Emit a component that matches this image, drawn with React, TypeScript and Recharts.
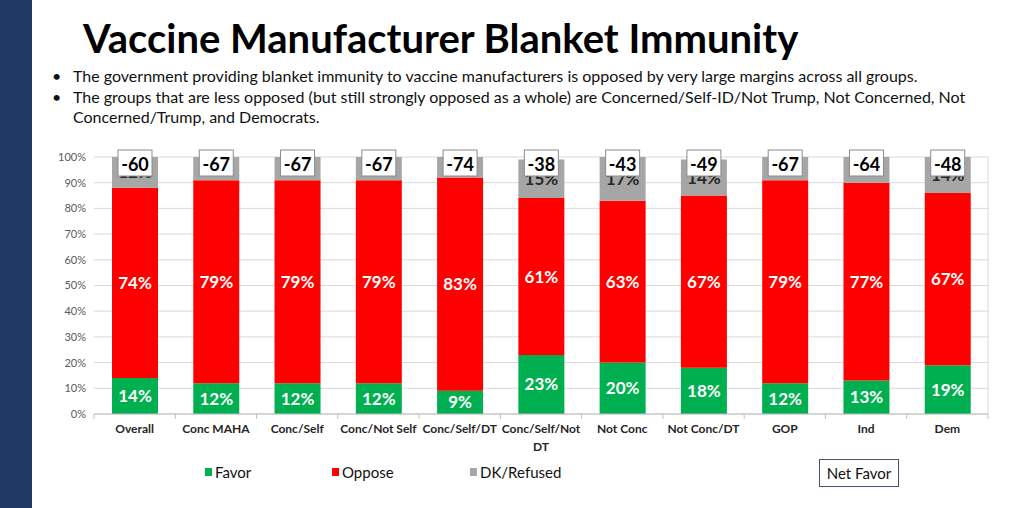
import React from "react";
import {
  BarChart,
  Bar,
  XAxis,
  YAxis,
  CartesianGrid,
  LabelList,
} from "recharts";

const categories = [
  "Overall",
  "Conc MAHA",
  "Conc/Self",
  "Conc/Not Self",
  "Conc/Self/DT",
  "Conc/Self/Not DT",
  "Not Conc",
  "Not Conc/DT",
  "GOP",
  "Ind",
  "Dem",
];
const favor = [14, 12, 12, 12, 9, 23, 20, 18, 12, 13, 19];
const oppose = [74, 79, 79, 79, 83, 61, 63, 67, 79, 77, 67];
const dkRefused = [12, 9, 9, 9, 8, 15, 17, 14, 9, 10, 14];
const yTicks = [0, 10, 20, 30, 40, 50, 60, 70, 80, 90, 100];

const GREEN = "#00b050";
const RED = "#ff0000";
const GRAY = "#a6a6a6";
const FONT = "Lato, 'Open Sans', sans-serif";

const data = categories.map((name, i) => ({
  name,
  favor: favor[i],
  oppose: oppose[i],
  dk: dkRefused[i],
  net: favor[i] - oppose[i],
}));

const pct = (v: number) => `${v}%`;

// long category names break at their last space
function splitLabel(label: string): string[] {
  if (label.length <= 14) return [label];
  const cut = label.lastIndexOf(" ");
  return [label.slice(0, cut), label.slice(cut + 1)];
}

function CategoryTick(props: any) {
  const { x, y, payload, index } = props;
  const half = payload.offset || 0;
  const lines = splitLabel(String(payload.value));
  return (
    <g>
      <line x1={x - half} x2={x - half} y1={y - 8} y2={y - 3} stroke="#bfbfbf" />
      {index === categories.length - 1 && (
        <line x1={x + half} x2={x + half} y1={y - 8} y2={y - 3} stroke="#bfbfbf" />
      )}
      <text
        x={x}
        y={y + 11}
        textAnchor="middle"
        fontSize={12}
        fontWeight="bold"
        fontFamily={FONT}
        fill="#262626"
      >
        {lines.map((line, i) => (
          <tspan key={i} x={x} dy={i === 0 ? 0 : 18}>
            {line}
          </tspan>
        ))}
      </text>
    </g>
  );
}

// white box with the net favor score, pinned just above the 100% line
function NetBox(props: any) {
  const { x, y, width, height, index } = props;
  const row = data[index];
  const total = row.favor + row.oppose + row.dk;
  const top100 = y - ((100 - total) * height) / row.dk;
  const cx = x + width / 2;
  const bw = 34;
  const bh = 26;
  return (
    <g>
      <rect
        x={cx - bw / 2}
        y={top100 - 7}
        width={bw}
        height={bh}
        fill="#ffffff"
        stroke="#8c8c8c"
        strokeWidth={1}
      />
      <text
        x={cx}
        y={top100 - 7 + bh / 2 + 1}
        textAnchor="middle"
        dominantBaseline="central"
        fontSize={18}
        fontWeight="bold"
        fontFamily={FONT}
        fill="#000000"
      >
        {row.net}
      </text>
    </g>
  );
}

const legendItems = [
  { label: "Favor", color: GREEN, left: 205 },
  { label: "Oppose", color: RED, left: 332 },
  { label: "DK/Refused", color: GRAY, left: 470 },
];

export default function App() {
  return (
    <div
      style={{
        position: "relative",
        width: 1024,
        height: 508,
        background: "#ffffff",
        overflow: "hidden",
        fontFamily: FONT,
      }}
    >
      <style>{`body{margin:0}`}</style>
      <div
        style={{
          position: "absolute",
          left: 0,
          top: 0,
          width: 32,
          height: 508,
          background: "#203864",
        }}
      />
      <div
        style={{
          position: "absolute",
          left: 83,
          top: 14,
          fontSize: 40,
          fontWeight: 700,
          color: "#000",
          whiteSpace: "nowrap",
        }}
      >
        Vaccine Manufacturer Blanket Immunity
      </div>
      <div
        style={{
          position: "absolute",
          left: 52,
          top: 66,
          width: 930,
          fontSize: 16,
          lineHeight: "20.5px",
          color: "#111",
        }}
      >
        <div style={{ display: "flex" }}>
          <span style={{ width: 21, flex: "none" }}>•</span>
          <span style={{ whiteSpace: "nowrap" }}>
            The government providing blanket immunity to vaccine manufacturers is
            opposed by very large margins across all groups.
          </span>
        </div>
        <div style={{ display: "flex" }}>
          <span style={{ width: 21, flex: "none" }}>•</span>
          <span style={{ width: 905 }}>
            The groups that are less opposed (but still strongly opposed as a
            whole) are Concerned/Self-ID/Not Trump, Not Concerned, Not
            Concerned/Trump, and Democrats.
          </span>
        </div>
      </div>

      <div style={{ position: "absolute", left: 0, top: 0 }}>
        <BarChart
          width={1024}
          height={460}
          data={data}
          margin={{ top: 157, right: 36, bottom: 0, left: 0 }}
          barSize={46}
        >
          <CartesianGrid
            stroke="#d9d9d9"
            vertical
            verticalCoordinatesGenerator={({ offset }: any) => [
              offset.left + offset.width,
            ]}
          />
          <XAxis
            dataKey="name"
            height={46}
            interval={0}
            axisLine={{ stroke: "#bfbfbf" }}
            tickLine={false}
            tickSize={6}
            tickMargin={2}
            tick={<CategoryTick />}
          />
          <YAxis
            width={94}
            domain={[0, 100]}
            ticks={yTicks}
            tickFormatter={pct}
            axisLine={false}
            tickLine={false}
            tick={{ fontSize: 11, fill: "#595959", fontFamily: FONT }}
          />
          <Bar dataKey="favor" stackId="a" fill={GREEN} isAnimationActive={false}>
            <LabelList
              dataKey="favor"
              position="center"
              formatter={pct}
              fill="#ffffff"
              fontSize={17}
              fontWeight="bold"
              fontFamily={FONT}
            />
          </Bar>
          <Bar dataKey="oppose" stackId="a" fill={RED} isAnimationActive={false}>
            <LabelList
              dataKey="oppose"
              position="center"
              formatter={pct}
              fill="#ffffff"
              fontSize={17}
              fontWeight="bold"
              fontFamily={FONT}
            />
          </Bar>
          <Bar dataKey="dk" stackId="a" fill={GRAY} isAnimationActive={false}>
            <LabelList
              dataKey="dk"
              position="center"
              formatter={pct}
              fill="#262626"
              fontSize={17}
              fontWeight="bold"
              fontFamily={FONT}
            />
            <LabelList dataKey="net" content={<NetBox />} />
          </Bar>
        </BarChart>
      </div>

      {legendItems.map((item) => (
        <div
          key={item.label}
          style={{
            position: "absolute",
            left: item.left,
            top: 463,
            display: "flex",
            alignItems: "center",
            fontSize: 15,
            color: "#111",
          }}
        >
          <span
            style={{
              width: 7,
              height: 8,
              background: item.color,
              marginRight: 3,
            }}
          />
          {item.label}
        </div>
      ))}
      <div
        style={{
          position: "absolute",
          left: 819,
          top: 459,
          width: 78,
          height: 26,
          border: "1.5px solid #44546a",
          display: "flex",
          alignItems: "center",
          justifyContent: "center",
          fontSize: 15,
          color: "#111",
        }}
      >
        Net Favor
      </div>
    </div>
  );
}
